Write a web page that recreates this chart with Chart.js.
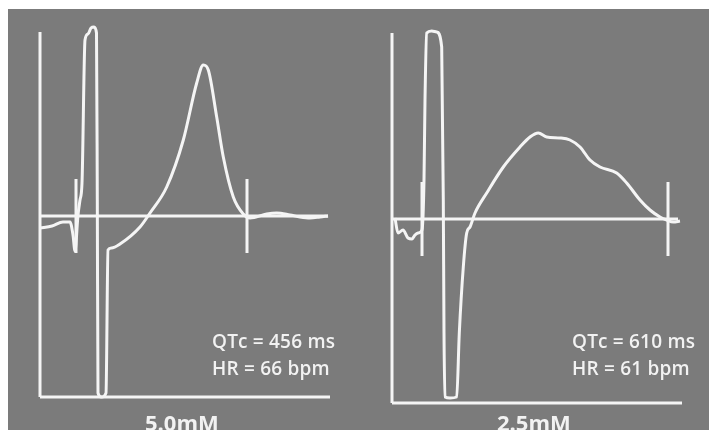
<!DOCTYPE html>
<html lang="en">
<head>
  <meta charset="UTF-8">
  <title>ECG 5.0mM vs 2.5mM</title>
  <script src="https://cdn.jsdelivr.net/npm/chart.js"></script>
  <style>
    body {
      margin: 0;
      background: #fff;
      width: 709px;
      height: 430px;
      overflow: hidden;
      font-family: "Open Sans", Arial, sans-serif;
    }

    #panel {
      position: absolute;
      left: 8px;
      top: 9px;
      width: 701px;
      height: 421px;
      background: #7b7b7b;
    }

    .plot {
      position: absolute;
      width: 330px;
      height: 410px;
    }

    .note {
      position: absolute;
      color: #f2f2f2;
      font-size: 19px;
      font-weight: 600;
      line-height: 27px;
      letter-spacing: 0.2px;
      white-space: nowrap;
    }

    .label {
      position: absolute;
      color: #f2f2f2;
      font-size: 22px;
      font-weight: 700;
      line-height: 22px;
      white-space: nowrap;
    }
  </style>
</head>
<body>
  <div id="panel"></div>
  <div class="plot" style="left:20px;top:10px"><canvas id="left"></canvas></div>
  <div class="plot" style="left:372px;top:13px"><canvas id="right"></canvas></div>

  <div class="note" style="left:212px;top:328px">QTc = 456 ms<br>HR = 66 bpm</div>
  <div class="note" style="left:572px;top:328px">QTc = 610 ms<br>HR = 61 bpm</div>
  <div class="label" style="left:145px;top:411px">5.0mM</div>
  <div class="label" style="left:497px;top:411px">2.5mM</div>

  <script>
    // traces: time offset from the axis, amplitude from the baseline
    const time50 = [0, 12, 23, 30, 33, 35, 38, 40, 42, 45, 48, 51, 54, 56.5, 57.3, 58, 61.5, 66, 68, 71.5, 80, 100, 110, 126.7, 143.3, 156.7, 163.3, 168.3, 176.7, 183.3, 193.3, 203.3, 210, 226.7, 236.7, 250, 260, 270, 280, 288];
    const volt50 = [-12, -10, -6, -6, -19, -35, 1, 16, 33, 176, 182, 188, 189, 183, 16, -177, -181, -177, -34, -32, -28, -11, 3, 29, 76, 133, 151, 146, 99, 59, 19, 2, -2, 2, 3, 1, -1, -2, -1, 0];
    const markers50 = [36, 207];

    const time25 = [3, 6, 11, 16, 20, 23, 26, 30, 32, 33, 34.7, 39.7, 44.7, 49.7, 51.3, 52, 53, 58, 64.7, 67.3, 71.3, 74.7, 78, 83, 94.7, 111.3, 128, 138, 146.3, 154.7, 168, 178, 188, 198, 208, 224.7, 234.7, 248, 258, 268, 274.7, 281.3, 288];
    const volt25 = [1, -14, -11, -19, -20, -16, -14, -11, 39, 119, 186, 188, 187, 172, 19, -114, -178, -179, -178, -114, -48, -14, -8, 6, 26, 52, 72, 82, 86, 82, 81, 79, 72, 59, 52, 46, 36, 19, 9, 2, -1, -3, -2];
    const markers25 = [30, 276];

    const lineColor = '#f5f5f5';

    function seg(x1, y1, x2, y2) {
      return {
        data: [{ x: x1, y: y1 }, { x: x2, y: y2 }],
        borderColor: lineColor,
        borderWidth: 3,
        pointRadius: 0,
        showLine: true,
        clip: false
      };
    }

    function drawPanel(id, times, volts, markers, axisTop, axisBottom, baseEnd) {
      const trace = times.map((t, i) => ({ x: t, y: volts[i] }));
      const datasets = [
        seg(0, axisBottom, 0, axisTop),
        seg(0, axisBottom, 290, axisBottom),
        seg(0, 0, baseEnd, 0),
        ...markers.map(m => seg(m, 37, m, -37)),
        {
          data: trace,
          borderColor: lineColor,
          borderWidth: 3,
          pointRadius: 0,
          showLine: true,
          cubicInterpolationMode: 'monotone',
          clip: false
        }
      ];

      new Chart(document.getElementById(id), {
        type: 'scatter',
        data: { datasets: datasets },
        options: {
          responsive: true,
          maintainAspectRatio: false,
          animation: false,
          layout: { padding: 0 },
          plugins: { legend: { display: false }, tooltip: { enabled: false } },
          scales: {
            x: { type: 'linear', min: -20, max: 310, display: false },
            y: { type: 'linear', min: -204, max: 206, display: false }
          }
        }
      });
    }

    drawPanel('left', time50, volt50, markers50, 184, -181, 288);
    drawPanel('right', time25, volt25, markers25, 186, -184, 286);
  </script>
</body>
</html>
